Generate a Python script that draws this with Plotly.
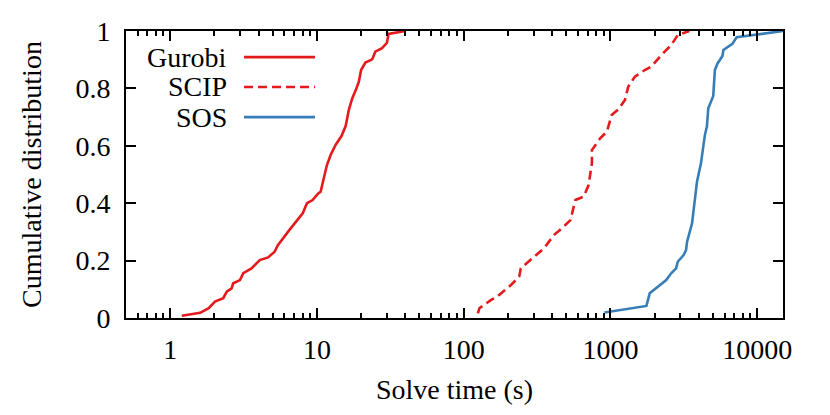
import plotly.graph_objects as go
import math

# ---- data ----
gurobi_t = [1.2, 1.6, 1.83, 2.02, 2.3, 2.43, 2.62, 2.69, 2.99, 3.15, 3.58, 3.77, 4.08, 4.65,
            5.15, 5.42, 5.86, 6.5, 7.21, 8.0, 8.56, 9.35, 10.2, 10.6, 11.2, 11.7, 12.4, 13.4,
            14.7, 15.7, 16.5, 17.4, 18.4, 19.3, 20.0, 21.4, 23.8, 25.0, 27.8, 30.0, 30.8, 34.2, 40]
gurobi_p = [0.008, 0.018, 0.034, 0.057, 0.069, 0.092, 0.103, 0.121, 0.132, 0.156, 0.173, 0.185,
            0.202, 0.211, 0.231, 0.254, 0.278, 0.307, 0.336, 0.365, 0.4, 0.411, 0.434, 0.44,
            0.492, 0.533, 0.568, 0.603, 0.634, 0.669, 0.725, 0.765, 0.794, 0.823, 0.864, 0.89,
            0.901, 0.928, 0.94, 0.959, 0.99, 0.994, 1.0]

scip_t = [125, 128, 154, 171, 210, 239, 245, 294, 353, 412, 469, 534, 577, 657, 710, 748, 748,
          851, 944, 968, 1020, 1132, 1256, 1323, 1469, 1715, 1902, 2222, 2596, 2879, 3452]
scip_p = [0.016, 0.034, 0.063, 0.077, 0.115, 0.144, 0.173, 0.208, 0.243, 0.289, 0.313, 0.341,
          0.411, 0.423, 0.463, 0.539, 0.585, 0.626, 0.649, 0.667, 0.707, 0.727, 0.76, 0.806,
          0.841, 0.864, 0.876, 0.916, 0.951, 0.986, 1.0]

sos_t = [911, 1759, 1853, 2109, 2401, 2594, 2803, 2877, 3162, 3278, 3330, 3600, 3677, 3733,
         3890, 4140, 4250, 4405, 4545, 4645, 5021, 5150, 5370, 5802, 5890, 6777, 7245, 9500, 15000]
sos_p = [0.019, 0.042, 0.086, 0.109, 0.132, 0.156, 0.173, 0.196, 0.22, 0.237, 0.266, 0.33,
         0.376, 0.411, 0.475, 0.539, 0.585, 0.638, 0.667, 0.731, 0.774, 0.864, 0.887, 0.913,
         0.934, 0.955, 0.978, 0.986, 1.0]

series_names = ["Gurobi", "SCIP", "SOS"]
x_tickvals = [1, 10, 100, 1000, 10000]
x_ticktext = ["1", "10", "100", "1000", "10000"]
y_tickvals = [0, 0.2, 0.4, 0.6, 0.8, 1]
y_ticktext = ["0", "0.2", "0.4", "0.6", "0.8", "1"]
x_range = [0.5, 15000]

RED = "#e41a1c"
BLUE = "#377eb8"
FONT = "Liberation Serif, Times New Roman, Times, serif"
FS = 28

styles = [dict(color=RED, width=2.6, dash="solid"),
          dict(color=RED, width=2.6, dash="9px,5px"),
          dict(color=BLUE, width=2.6, dash="solid")]
data = [(gurobi_t, gurobi_p), (scip_t, scip_p), (sos_t, sos_p)]

fig = go.Figure()
for name, (t, p), st in zip(series_names, data, styles):
    fig.add_trace(go.Scatter(x=t, y=p, mode="lines", name=name, line=st, showlegend=False))

minor_vals = [m * 10 ** e for e in range(-1, 5) for m in range(2, 10)]

fig.update_layout(
    width=830, height=415,
    margin=dict(l=126, r=47, t=31, b=97),
    paper_bgcolor="white", plot_bgcolor="white",
    font=dict(family=FONT, size=FS, color="black"),
    xaxis=dict(
        type="log", range=[math.log10(x_range[0]), math.log10(x_range[1])],
        tickmode="array", tickvals=x_tickvals, ticktext=x_ticktext,
        ticks="inside", ticklen=10, tickwidth=1.5, tickcolor="black",
        minor=dict(tickmode="array", tickvals=minor_vals, ticks="inside", ticklen=5,
                   tickwidth=1.5, tickcolor="black", showgrid=False),
        showline=True, linewidth=2, linecolor="black", mirror="allticks",
        showgrid=False, zeroline=False,
        ticklabelstandoff=5,
        title=dict(text="Solve time (s)", standoff=16, font=dict(family=FONT, size=FS)),
        tickfont=dict(family=FONT, size=FS),
    ),
    yaxis=dict(
        range=[0, 1],
        tickmode="array", tickvals=y_tickvals, ticktext=y_ticktext,
        ticks="inside", ticklen=10, tickwidth=1.5, tickcolor="black",
        showline=True, linewidth=2, linecolor="black", mirror="allticks",
        showgrid=False, zeroline=False,
        ticklabelstandoff=8,
        title=dict(text="Cumulative distribution", standoff=26, font=dict(family=FONT, size=FS)),
        tickfont=dict(family=FONT, size=FS),
    ),
)

# custom legend: right-aligned text followed by line sample
leg_y = [0.909, 0.805, 0.700]
for name, st, yy in zip(series_names, styles, leg_y):
    fig.add_annotation(x=0.1568, y=yy, xref="paper", yref="paper", text=name,
                       showarrow=False, xanchor="right", yanchor="middle",
                       font=dict(family=FONT, size=FS, color="black"))
    fig.add_shape(type="line", xref="paper", yref="paper", x0=0.1796, x1=0.2877,
                  y0=yy, y1=yy, line=st)

fig.write_html("out.html", config={"displayModeBar": False},
               post_script="document.body.style.margin='0';")
